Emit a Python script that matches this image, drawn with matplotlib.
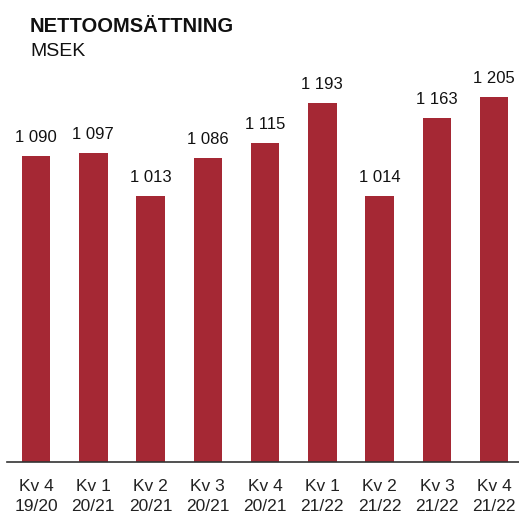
import matplotlib.pyplot as plt

# quarterly net sales, MSEK
quarters = ['Kv 4\n19/20', 'Kv 1\n20/21', 'Kv 2\n20/21', 'Kv 3\n20/21', 'Kv 4\n20/21',
            'Kv 1\n21/22', 'Kv 2\n21/22', 'Kv 3\n21/22', 'Kv 4\n21/22']
sales = [1090, 1097, 1013, 1086, 1115, 1193, 1014, 1163, 1205]
value_labels = ['1 090', '1 097', '1 013', '1 086', '1 115', '1 193', '1 014', '1 163', '1 205']

plt.rcParams['font.family'] = ['Liberation Sans', 'DejaVu Sans']

fig = plt.figure(figsize=(5.19, 5.14), dpi=100)
ax = fig.add_axes([0.0143, 0.1012, 0.993, 0.756])

x = range(len(quarters))
bars = ax.bar(x, sales, width=0.5, color='#A52834')

ax.set_ylim(500, 1250)
ax.set_xlim(-0.5, len(quarters) - 0.5)

# value labels above the bars
for bar, lab in zip(bars, value_labels):
    ax.annotate(lab, (bar.get_x() + bar.get_width() / 2, bar.get_height()),
                xytext=(0, 8), textcoords='offset points',
                ha='center', va='bottom', fontsize=12, color='#111111')

ax.set_xticks(list(x))
ax.set_xticklabels(quarters, fontsize=12.5, color='#222222', linespacing=1.45)
ax.tick_params(axis='x', length=0, pad=12)
ax.set_yticks([])

for side in ['top', 'right', 'left']:
    ax.spines[side].set_visible(False)
ax.spines['bottom'].set_color('#333333')
ax.spines['bottom'].set_linewidth(1.2)

# title
fig.text(30 / 519, 1 - 32 / 514, 'NETTOOMSÄTTNING', fontsize=14.5, fontweight='bold',
         ha='left', va='baseline', color='#111111')
fig.text(30 / 519, 1 - 56 / 514, 'MSEK', fontsize=14,
         ha='left', va='baseline', color='#111111')

fig.savefig('out.png', dpi=100)
